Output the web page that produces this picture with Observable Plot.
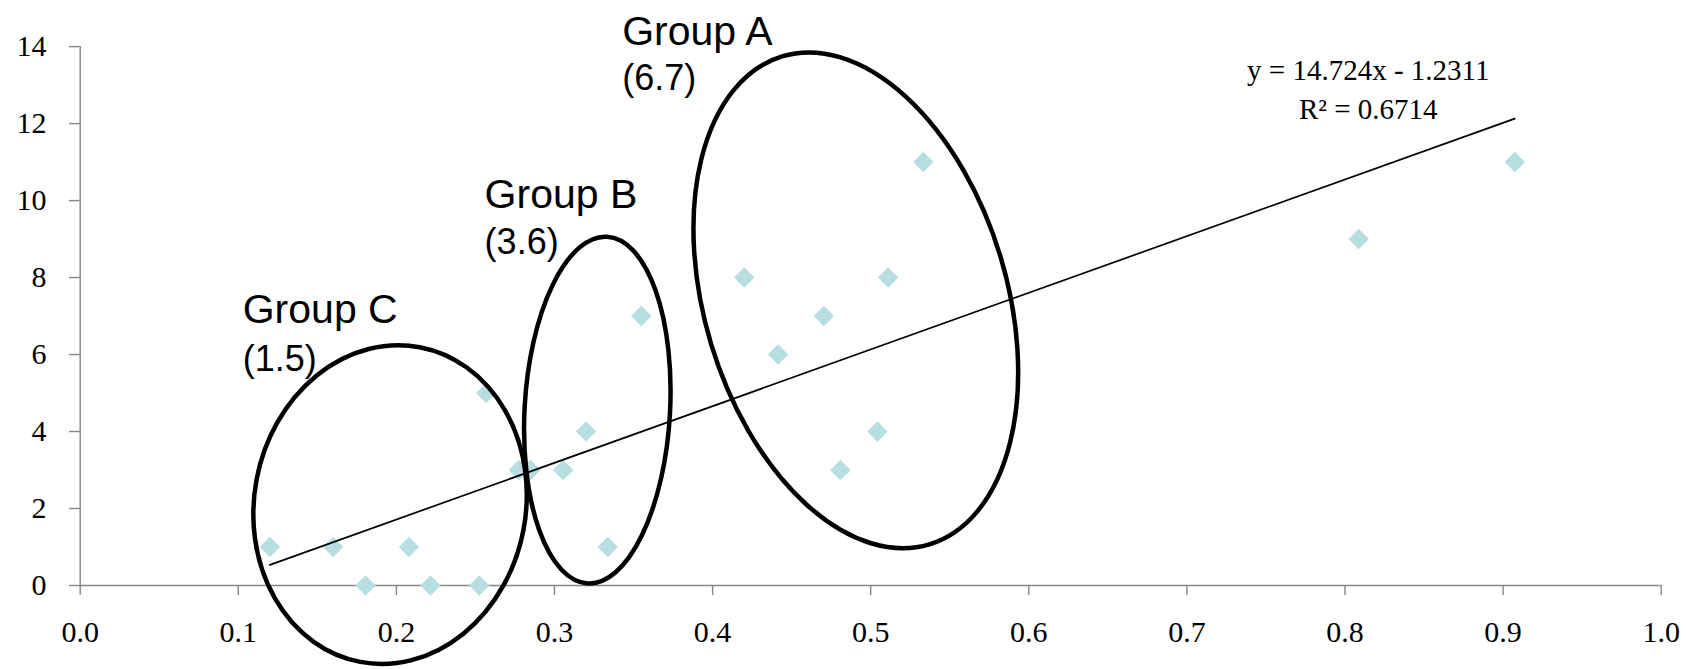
<!DOCTYPE html>
<html>
<head>
<meta charset="utf-8">
<script src="https://cdn.jsdelivr.net/npm/d3@7"></script>
<script src="https://cdn.jsdelivr.net/npm/@observablehq/plot@0.6"></script>
<style>
  html, body { margin: 0; padding: 0; background: #fff; }
  #chart svg { display: block; }
</style>
</head>
<body>
<div id="chart"></div>
<script>
// ---- data ----
const xValues = [0.12, 0.16, 0.1805, 0.208, 0.2216, 0.2524, 0.2568, 0.2774, 0.2848, 0.3055, 0.320, 0.3337, 0.3549, 0.420, 0.4414, 0.4704, 0.4808, 0.5043, 0.511, 0.5333, 0.8087, 0.9074];
const yValues = [1, 1, 0, 1, 0, 0, 5, 3, 3, 3, 4, 1, 7, 8, 6, 7, 3, 4, 8, 11, 9, 11];
const xTicks = [0, 0.1, 0.2, 0.3, 0.4, 0.5, 0.6, 0.7, 0.8, 0.9, 1.0];
const yTicks = [0, 2, 4, 6, 8, 10, 12, 14];
const groupNames = ["Group A", "Group B", "Group C"];
const groupMeans = ["(6.7)", "(3.6)", "(1.5)"];
const trendSlope = 14.724;
const trendIntercept = -1.2311;
const trendEquation = "y = 14.724x - 1.2311";
const trendR2 = "R² = 0.6714";

// ---- annotation placement (data units) ----
const groupLabelPos = [
  {x: 0.3428, y1: 14.05, y2: 12.875},
  {x: 0.2558, y1: 9.797, y2: 8.61},
  {x: 0.1028, y1: 6.829, y2: 5.584}
];
// ellipses: center (data), semi-axes (data units along x / y), rotation (deg)
const groupEllipses = [
  {cx: 0.4909, cy: 7.395, rx: 0.0956, ry: 6.62, angle: -16.8},
  {cx: 0.3274, cy: 4.545, rx: 0.0460, ry: 4.51, angle: 3.2},
  {cx: 0.1963, cy: 2.09, rx: 0.0859, ry: 4.16, angle: 10.7}
];

const points = xValues.map((x, i) => ({x, y: yValues[i]}));
const [xMin, xMax] = d3.extent(xValues);
const trend = [xMin, xMax].map(x => ({x, y: trendSlope * x + trendIntercept}));
const labels = groupNames.map((name, i) => ({name, mean: groupMeans[i], ...groupLabelPos[i]}));

const axisGray = "#878787";

function ellipseMark(index, scales) {
  const g = d3.create("svg:g");
  for (const e of groupEllipses) {
    const cx = scales.x(e.cx), cy = scales.y(e.cy);
    const rx = scales.x(e.cx + e.rx) - cx;
    const ry = cy - scales.y(e.cy + e.ry);
    g.append("ellipse")
      .attr("cx", cx).attr("cy", cy)
      .attr("rx", rx).attr("ry", ry)
      .attr("transform", `rotate(${e.angle},${cx},${cy})`)
      .attr("fill", "none")
      .attr("stroke", "#000")
      .attr("stroke-width", 4.5);
  }
  return g.node();
}

const chart = Plot.plot({
  width: 1688,
  height: 669,
  marginLeft: 79.7,
  marginRight: 27.3,
  marginTop: 46.1,
  marginBottom: 84,
  style: {fontFamily: "'Liberation Serif', serif", background: "#fff", color: "#000", overflow: "visible"},
  x: {domain: [0, 1]},
  y: {domain: [0, 14]},
  marks: [
    Plot.ruleY([0], {stroke: axisGray, strokeWidth: 1.4}),
    Plot.ruleX([0], {stroke: axisGray, strokeWidth: 1.4}),
    Plot.axisX({ticks: xTicks, tickFormat: d3.format(".1f"), tickSize: 10, tickPadding: 24.7, fontSize: 30, stroke: axisGray, strokeWidth: 1.4, label: null}),
    Plot.axisY({ticks: yTicks, tickFormat: d => String(d), tickSize: 10.7, tickPadding: 23, fontSize: 30, stroke: axisGray, strokeWidth: 1.4, label: null}),
    Plot.dot(points, {x: "x", y: "y", symbol: "diamond2", r: 9.2, fill: "#b7dee0", stroke: "none"}),
    Plot.line(trend, {x: "x", y: "y", stroke: "#000", strokeWidth: 1.7}),
    ellipseMark,
    Plot.text(labels, {x: "x", y: "y1", text: "name", textAnchor: "start", lineAnchor: "bottom", fontSize: 41, fontFamily: "'Liberation Sans', Arial, sans-serif", fill: "#000"}),
    Plot.text(labels, {x: "x", y: "y2", text: "mean", textAnchor: "start", lineAnchor: "bottom", fontSize: 36, fontFamily: "'Liberation Sans', Arial, sans-serif", fill: "#000"}),
    Plot.text([trendEquation], {x: () => 0.8147, y: () => 13.145, text: d => d, textAnchor: "middle", lineAnchor: "bottom", fontSize: 29, fill: "#000"}),
    Plot.text([trendR2], {x: () => 0.8147, y: () => 12.115, text: d => d, textAnchor: "middle", lineAnchor: "bottom", fontSize: 29, fill: "#000"})
  ]
});
document.getElementById("chart").appendChild(chart);
</script>
</body>
</html>
